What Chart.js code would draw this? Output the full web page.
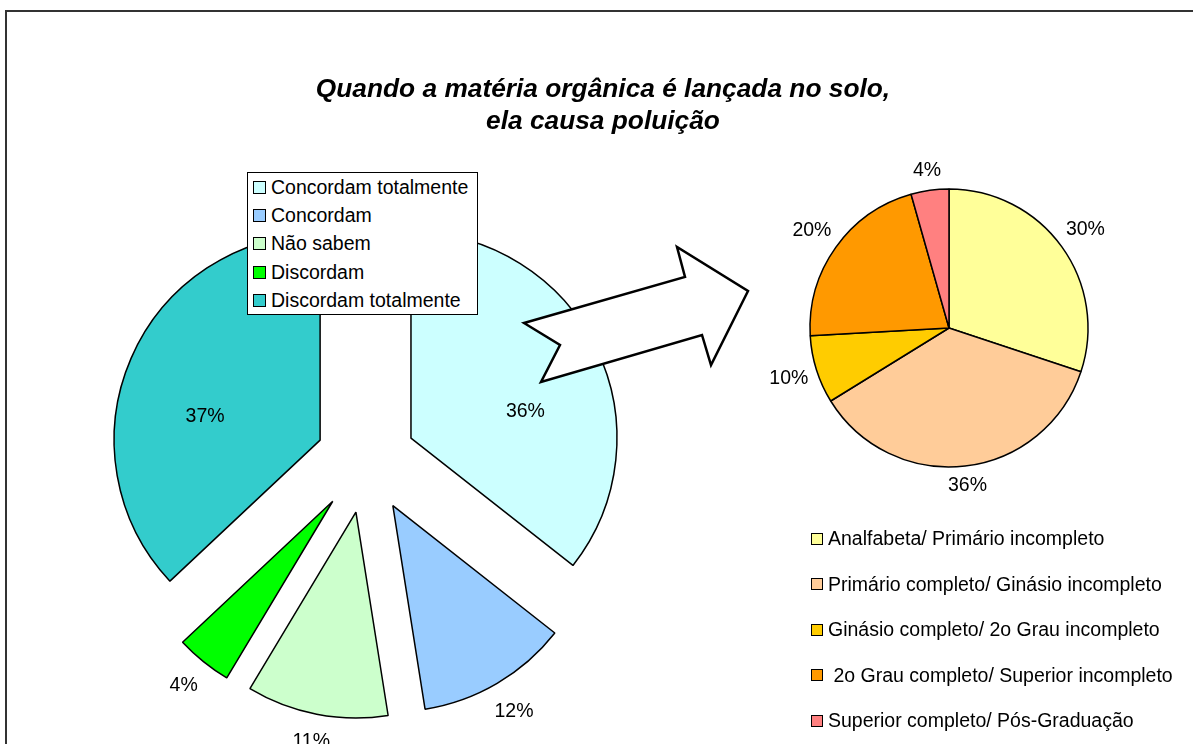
<!DOCTYPE html>
<html lang="pt">
<head>
<meta charset="utf-8">
<title>Quando a matéria orgânica é lançada no solo, ela causa poluição</title>
<script src="https://cdn.jsdelivr.net/npm/chart.js@4.4.1/dist/chart.umd.min.js"></script>
<style>
  html, body { margin: 0; padding: 0; background: #fff; overflow: hidden; }
  body { width: 1193px; height: 744px; position: relative; font-family: "Liberation Sans", Arial, sans-serif; color: #000; }
  .frame { position: absolute; left: 5px; top: 10px; width: 1300px; height: 900px; border-left: 2px solid #333; border-top: 2px solid #333; }
  canvas.layer { position: absolute; left: 0; top: 0; }
  .title { position: absolute; left: 0; top: 72px; width: 1206px; text-align: center; font: italic bold 26.3px "Liberation Sans", Arial, sans-serif; line-height: 32px; }
  .legend { position: absolute; font-size: 19.5px; }
  .legend .row { display: flex; align-items: center; white-space: pre; }
  .legend .swatch { flex: none; box-sizing: border-box; border: 1px solid #000; }
  #legendOpinion { left: 247px; top: 172px; width: 231px; height: 143px; box-sizing: border-box; border: 1px solid #000; background: #fff; padding-left: 5px; }
  #legendOpinion .row { height: 28.3px; }
  #legendOpinion .swatch { width: 13px; height: 13px; margin-right: 5px; }
  #legendSchooling { left: 811px; top: 516px; }
  #legendSchooling .row { height: 45.5px; }
  #legendSchooling .swatch { width: 12px; height: 12px; margin-right: 5px; }
</style>
</head>
<body>
<div class="frame"></div>
<canvas id="opinionChart" class="layer" width="1193" height="744"></canvas>
<canvas id="schoolingChart" class="layer" width="1193" height="744"></canvas>
<div class="title">Quando a matéria orgânica é lançada no solo,<br>ela causa poluição</div>
<div id="legendOpinion" class="legend"></div>
<div id="legendSchooling" class="legend"></div>
<script>
  // left pie: opinion on the statement
  const opinionLabels = ['Concordam totalmente', 'Concordam', 'Não sabem', 'Discordam', 'Discordam totalmente'];
  const opinionValues = [35.6, 11.9, 11.1, 4.4, 37.0];
  const opinionPctText = ['36%', '12%', '11%', '4%', '37%'];
  const opinionColors = ['#CCFFFF', '#99CCFF', '#CCFFCC', '#00FF00', '#33CCCC'];

  // right pie: schooling of the respondents
  const schoolingLabels = [
    'Analfabeta/ Primário incompleto',
    'Primário completo/ Ginásio incompleto',
    'Ginásio completo/ 2o Grau incompleto',
    ' 2o Grau completo/ Superior incompleto',
    'Superior completo/ Pós-Graduação',
  ];
  const schoolingValues = [30.1, 36.1, 7.9, 21.5, 4.4];
  const schoolingPctText = ['30%', '36%', '10%', '20%', '4%'];
  const schoolingColors = ['#FFFF99', '#FFCC99', '#FFCC00', '#FF9900', '#FF8080'];

  const FONT = '"Liberation Sans", Arial, Helvetica, sans-serif';
  const LABEL_FONT = '19.5px ' + FONT;

  // moves each slice out along its bisector (exploded pie)
  function makeExplodePlugin(distance) {
    return {
      id: 'explodeSlices',
      afterDatasetUpdate(chart, args) {
        args.meta.data.forEach(function (arc, i) {
          const mid = (arc.startAngle + arc.endAngle) / 2;
          const d = distance[i] || 0;
          arc.x += Math.cos(mid) * d;
          arc.y += Math.sin(mid) * d;
        });
      },
    };
  }

  function makeSliceLabelPlugin(texts, inside, gap, insideFrac) {
    return {
      id: 'sliceLabels',
      afterDatasetsDraw(chart) {
        const ctx = chart.ctx;
        const arcs = chart.getDatasetMeta(0).data;
        ctx.save();
        ctx.font = LABEL_FONT;
        ctx.fillStyle = '#000';
        ctx.textAlign = 'center';
        ctx.textBaseline = 'middle';
        arcs.forEach(function (arc, i) {
          const mid = (arc.startAngle + arc.endAngle) / 2;
          const r = arc.outerRadius;
          let x, y;
          if (inside[i]) {
            // halve the elevation so the label sits closer to the horizontal
            const horiz = Math.cos(mid) >= 0 ? 0 : Math.PI;
            let diff = mid - horiz;
            while (diff > Math.PI) diff -= 2 * Math.PI;
            while (diff < -Math.PI) diff += 2 * Math.PI;
            const a = horiz + diff / 2;
            x = arc.x + Math.cos(a) * r * insideFrac;
            y = arc.y + Math.sin(a) * r * insideFrac;
          } else {
            const hw = ctx.measureText(texts[i]).width / 2;
            const dist = r + gap + hw * Math.abs(Math.cos(mid)) + 11 * Math.abs(Math.sin(mid));
            x = arc.x + Math.cos(mid) * dist;
            y = arc.y + Math.sin(mid) * dist;
          }
          ctx.fillText(texts[i], x, y);
        });
        ctx.restore();
      },
    };
  }

  const arrowPlugin = {
    id: 'arrowShape',
    afterDraw(chart) {
      const pts = [[524, 323], [685, 277], [677, 247], [748, 291], [711, 365], [702, 335], [541, 382], [560, 345]];
      const ctx = chart.ctx;
      ctx.save();
      ctx.beginPath();
      pts.forEach(function (p, i) {
        if (i === 0) ctx.moveTo(p[0], p[1]);
        else ctx.lineTo(p[0], p[1]);
      });
      ctx.closePath();
      ctx.fillStyle = '#fff';
      ctx.fill();
      ctx.lineWidth = 2.5;
      ctx.lineJoin = 'miter';
      ctx.strokeStyle = '#000';
      ctx.stroke();
      ctx.restore();
    },
  };

  function pieConfig(labels, values, colors, radius, padding, plugins) {
    return {
      type: 'pie',
      data: {
        labels: labels,
        datasets: [{
          data: values,
          backgroundColor: colors,
          borderColor: '#000',
          borderWidth: 1.5,
          radius: radius,
          offset: 0,
          hoverOffset: 0,
        }],
      },
      options: {
        responsive: false,
        animation: false,
        events: [],
        layout: { padding: padding },
        plugins: {
          legend: { display: false },
          title: { display: false },
          tooltip: { enabled: false },
        },
      },
      plugins: plugins,
    };
  }

  new Chart(document.getElementById('opinionChart'), pieConfig(
    opinionLabels, opinionValues, opinionColors, 206,
    { left: 116, top: 210, right: 577, bottom: 34 },
    [
      makeExplodePlugin([50, 53, 53, 53, 50]),
      makeSliceLabelPlugin(opinionPctText, [true, false, false, false, true], 14, 0.57),
    ]
  ));

  new Chart(document.getElementById('schoolingChart'), pieConfig(
    schoolingLabels, schoolingValues, schoolingColors, 139,
    { left: 779, top: 158, right: 74, bottom: 246 },
    [
      makeSliceLabelPlugin(schoolingPctText, [false, false, false, false, false], 7, 0),
      arrowPlugin,
    ]
  ));

  function buildLegend(id, labels, colors) {
    const box = document.getElementById(id);
    labels.forEach(function (label, i) {
      const row = document.createElement('div');
      row.className = 'row';
      const sw = document.createElement('span');
      sw.className = 'swatch';
      sw.style.background = colors[i];
      const tx = document.createElement('span');
      tx.textContent = label;
      row.appendChild(sw);
      row.appendChild(tx);
      box.appendChild(row);
    });
  }
  buildLegend('legendOpinion', opinionLabels, opinionColors);
  buildLegend('legendSchooling', schoolingLabels, schoolingColors);
</script>
</body>
</html>
